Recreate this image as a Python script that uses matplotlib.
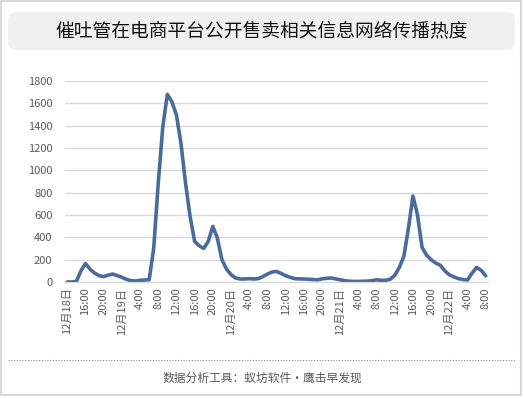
import numpy as np
import matplotlib
matplotlib.use('Agg')
import matplotlib.pyplot as plt
from matplotlib.patches import FancyBboxPatch, Rectangle
from matplotlib.lines import Line2D

plt.rcParams['font.family'] = ['Noto Sans CJK SC', 'DejaVu Sans']

# hourly heat values, 12月18日 12:00 -> 12月22日 8:00
heat = [0, 0, 5, 100, 165, 115, 80, 57, 48, 62, 71, 57,
        42, 24, 12, 9, 15, 18, 20, 300, 885, 1390, 1680, 1615,
        1495, 1240, 885, 587, 364, 325, 300, 364, 498, 393, 200, 116,
        66, 36, 27, 27, 30, 27, 30, 48, 71, 89, 95, 77,
        57, 42, 30, 28, 27, 25, 22, 20, 28, 33, 36, 28,
        20, 12, 7, 5, 5, 6, 8, 12, 20, 15, 15, 25,
        60, 130, 230, 480, 770, 600, 310, 240, 200, 170, 150, 100,
        65, 45, 30, 22, 18, 80, 130, 105, 55]

tick_labels = ['12月18日', '16:00', '20:00',
               '12月19日', '4:00', '8:00', '12:00', '16:00', '20:00',
               '12月20日', '4:00', '8:00', '12:00', '16:00', '20:00',
               '12月21日', '4:00', '8:00', '12:00', '16:00', '20:00',
               '12月22日', '4:00', '8:00']

title = '催吐管在电商平台公开售卖相关信息网络传播热度'
footer = '数据分析工具：蚁坊软件·鹰击早发现'

W, H = 524, 398
fig = plt.figure(figsize=(W / 100, H / 100), dpi=100)
fig.patch.set_facecolor('white')

# outer frame
fig.patches.append(Rectangle((0.005, 0.03), 5.205, 3.945, transform=fig.dpi_scale_trans,
                             fill=False, edgecolor='#d9d9d9', linewidth=1.5))
# title box
fig.patches.append(FancyBboxPatch((0.08, 3.48), 5.07, 0.38,
                                  boxstyle='round,pad=0,rounding_size=0.08',
                                  transform=fig.dpi_scale_trans,
                                  facecolor='#f0f0f0', edgecolor='none'))
fig.text(0.5, 1 - 31 / H, title, ha='center', va='center', fontsize=13.5, color='#111111')

ax = fig.add_axes([65 / W, 1 - 282 / H, (488 - 65) / W, (282 - 81) / H])
x = np.arange(len(heat))
ax.plot(x, heat, color='#4a6b9b', linewidth=2.6, solid_capstyle='round', solid_joinstyle='round')
ax.set_xlim(-0.5, len(heat) - 0.5)
ax.set_ylim(0, 1800)
ax.set_yticks(range(0, 1801, 200))
ax.set_xticks(range(0, len(heat), 4))
ax.set_xticklabels(tick_labels, rotation=90, fontsize=8, color='#595959')
ax.tick_params(axis='y', labelsize=8, colors='#595959', length=0, pad=9)
ax.tick_params(axis='x', length=0, pad=4)
ax.grid(axis='y', color='#d9d9d9', linewidth=1)
ax.set_axisbelow(True)
for s in ['top', 'right', 'left']:
    ax.spines[s].set_visible(False)
ax.spines['bottom'].set_color('#d9d9d9')

# footer
fig.lines.append(Line2D([8 / W, 516 / W], [1 - 360 / H, 1 - 360 / H], transform=fig.transFigure,
                        color='#888888', linestyle=(0, (1, 1.5)), linewidth=0.8))
fig.text(262 / W, 1 - 378 / H, footer, ha='center', va='center', fontsize=8.5, color='#595959')

fig.savefig('out.png', dpi=100)
